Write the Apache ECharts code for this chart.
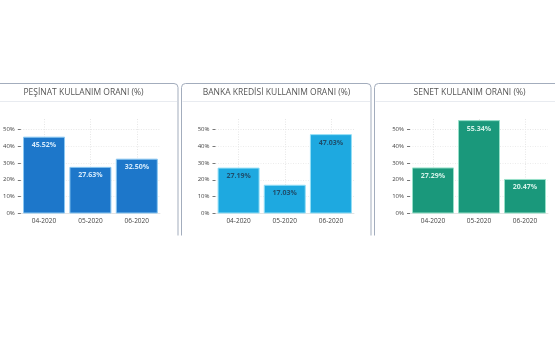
<!DOCTYPE html>
<html>
<head>
<meta charset="utf-8">
<script src="https://cdn.jsdelivr.net/npm/echarts@6/dist/echarts.min.js"></script>
<style>html,body{margin:0;padding:0;background:#fff;}#c{width:555px;height:355px;}</style>
</head>
<body>
<div id="c"></div>
<script>
var categories = ['04-2020', '05-2020', '06-2020'];
var titles = ['PEŞİNAT KULLANIM ORANI (%)', 'BANKA KREDİSİ KULLANIM ORANI (%)', 'SENET KULLANIM ORANI (%)'];
var pesinat = [45.52, 27.63, 32.50];
var bankaKredisi = [27.19, 17.03, 47.03];
var senet = [27.29, 55.34, 20.47];
var yTicks = [0, 10, 20, 30, 40, 50];

var seriesData = [pesinat, bankaKredisi, senet];
var barColors = ['#1d77ca', '#1ea9e0', '#1a987b'];
var borderColors = ['#8cc8f2', '#93def6', '#97e0c9'];
var labelColors = ['#d4eafb', '#1f4d6b', '#d2f1e8'];
var panels = [{x: -11.5, w: 190}, {x: 181.5, w: 190}, {x: 374.5, w: 190}];
var grids = [{left: 20.5, width: 139.5}, {left: 215.5, width: 138.5}, {left: 410, width: 138}];
var font = '"Open Sans", "Noto Sans", sans-serif';

var chart = echarts.init(document.getElementById('c'), null, {renderer: 'canvas'});
var graphic = [];
panels.forEach(function (p, i) {
  graphic.push({type: 'rect', z: 0, shape: {x: p.x, y: 83.5, width: p.w - 0.5, height: 200, r: 4},
    style: {fill: '#fff', stroke: '#a3adbd', lineWidth: 1}});
  graphic.push({type: 'line', z: 1, shape: {x1: p.x + 1, y1: 101.5, x2: p.x + p.w - 1.5, y2: 101.5},
    style: {stroke: '#e8ebf0', lineWidth: 1}});
  graphic.push({type: 'text', z: 2, style: {text: titles[i], x: p.x + p.w / 2, y: 93, align: 'center', verticalAlign: 'middle',
    font: '8.5px ' + font, fill: '#555'}});
});
graphic.push({type: 'rect', z: 3, shape: {x: 0, y: 235.5, width: 555, height: 130}, style: {fill: '#fff'}});

var splitColors = ['#ececec', '#ececec', '#ececec', '#ececec', '#ececec', '#e6e6e6', 'rgba(0,0,0,0)'];

var option = {
  animation: false,
  backgroundColor: '#fff',
  graphic: graphic,
  grid: grids.map(function (g) { return {left: g.left, width: g.width, top: 119, height: 94.5, z: 5}; }),
  xAxis: grids.map(function (g, i) {
    return {
      type: 'category', gridIndex: i, data: categories, z: 5,
      axisLine: {show: true, lineStyle: {color: '#e4e4e4'}},
      axisTick: {show: false},
      axisLabel: {color: '#444', fontSize: 6.5, fontFamily: font, margin: 4},
      splitLine: {show: true, alignWithLabel: true, lineStyle: {color: '#e6e6e6', type: [1, 1.5]}}
    };
  }),
  yAxis: grids.map(function (g, i) {
    return {
      type: 'value', gridIndex: i, min: 0, max: 56, interval: 10, z: 5,
      axisLine: {show: false},
      axisTick: {show: true, length: 3, lineStyle: {color: '#777'}},
      axisLabel: {color: '#444', fontSize: 6, fontFamily: font, margin: 6, showMaxLabel: false,
        formatter: function (v) { return v + '%'; }},
      splitLine: {show: true, lineStyle: {color: splitColors, type: [1, 1.5]}}
    };
  }),
  series: seriesData.map(function (d, i) {
    return {
      type: 'bar', xAxisIndex: i, yAxisIndex: i, data: d, barWidth: 42, z: 6,
      itemStyle: {color: barColors[i], borderColor: borderColors[i], borderWidth: 1},
      label: {show: true, position: 'insideTop', distance: 5, color: labelColors[i], fontSize: 7, fontWeight: 'bold',
        fontFamily: font, formatter: function (p) { return p.value.toFixed(2) + '%'; }}
    };
  })
};
chart.setOption(option);
</script>
</body>
</html>
